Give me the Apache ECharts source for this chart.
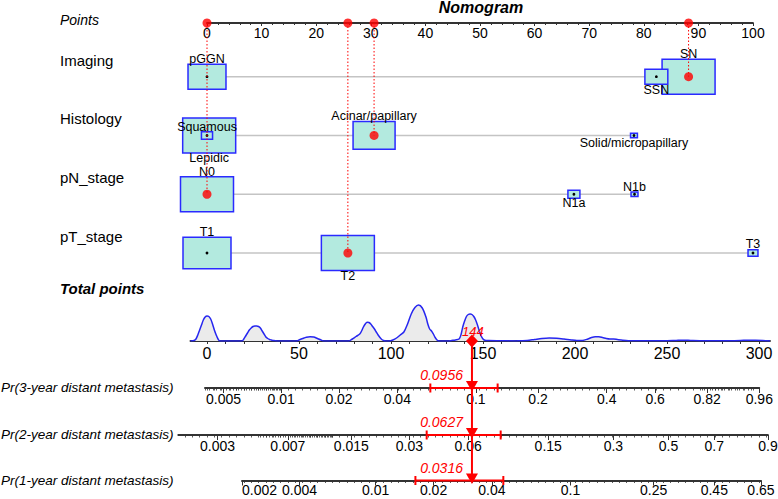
<!DOCTYPE html>
<html>
<head>
<meta charset="utf-8">
<script src="https://cdn.jsdelivr.net/npm/echarts@6/dist/echarts.min.js"></script>
<style>
  html, body { margin: 0; padding: 0; background: #fff; }
  #chart { width: 778px; height: 499px; }
</style>
</head>
<body>
<div id="chart"></div>
<script>
// ---- data ----
const rowNames = ['Imaging', 'Histology', 'pN_stage', 'pT_stage'];

const imagingLevels = ['pGGN', 'SSN', 'SN'];
const imagingPoints = [0, 82.3, 88.2];
const imagingFreq = [0.302, 0.110, 0.588];

const histologyLevels = ['Squamous', 'Lepidic', 'Acinar/papillary', 'Solid/micropapillary'];
const histologyPoints = [0, 0.4, 30.6, 78.2];
const histologyFreq = [0.026, 0.592, 0.372, 0.010];

const pnLevels = ['N0', 'N1a', 'N1b'];
const pnPoints = [0, 67.2, 78.3];
const pnFreq = [0.936, 0.048, 0.016];

const ptLevels = ['T1', 'T2', 'T3'];
const ptPoints = [0, 25.8, 100];
const ptFreq = [0.442, 0.539, 0.019];

// the patient marked in red
const selectedLevels = ['SN', 'Acinar/papillary', 'N0', 'T2'];
const totalScore = 144;

// total points axis
const totalRange = [-9, 306];
const totalLabels = [0, 50, 100, 150, 200, 250, 300];

// density of total points (arbitrary units)
const densityTP = [-9, -7, -6, -5, -4, -3, -2, -1, 0, 1, 2, 3, 4, 5, 6, 7,
  19, 20, 21, 22, 23, 24, 25, 26, 27, 28, 29, 30, 31, 32, 33, 34, 35, 36, 38,
  49, 50, 52, 54, 56, 58, 60, 62, 63.5,
  77, 79, 81, 83, 84, 85, 86, 87, 88, 89, 90, 91, 92, 93, 94, 95, 96, 97,
  99, 101, 103, 105, 107, 109, 111, 113, 115, 117, 119, 120, 121, 122, 123, 124, 125, 126,
  131, 133, 135, 137, 138, 139, 140, 141, 142, 143, 144, 145, 146, 147, 148, 149, 150, 151, 153, 160, 168, 170,
  174, 178, 182, 186, 190, 194, 198, 201,
  204, 207, 209, 211, 213, 215, 217, 219, 221, 223, 226, 229, 232,
  240, 250, 255, 259, 263, 270, 280, 290, 294, 298, 302, 306];
const densityValue = [0, 0.5, 2, 6, 11, 16, 21, 24, 25, 24.5, 22, 17, 11, 6, 2, 0,
  0, 2, 5, 8, 11, 13, 14.5, 15, 15, 14.5, 13, 10, 7, 4, 2.5, 1.5, 1, 0.5, 0,
  0, 1, 2.5, 3.8, 4.3, 4, 2.5, 1, 0,
  0, 2, 4.5, 7, 10, 14, 17, 18.7, 18.5, 17, 14.5, 12, 9, 6, 3.5, 1.5, 0.5, 0,
  0, 1, 3, 6, 9, 17, 27, 33.5, 36, 33, 24, 17, 12, 10, 7, 3.5, 1, 0,
  0, 0.5, 1, 2, 6, 14, 20, 24.5, 26.5, 27, 26.5, 24.5, 21, 16, 10, 5, 2, 0.8, 0.5, 0.3, 0, 0.3,
  0.5, 1.5, 2.5, 3, 2.8, 2, 1, 0.5,
  0.5, 2, 3.5, 4.3, 4.3, 3.5, 2.5, 2, 2, 1.5, 0.8, 0.3, 0.2,
  0.2, 0.3, 0.6, 0.8, 0.5, 0.2, 0.2, 0.5, 0.8, 0.8, 0.6, 0];

// probability scales
const probNames = ['Pr(3-year distant metastasis)', 'Pr(2-year distant metastasis)', 'Pr(1-year distant metastasis)'];
const prob3Labels = [0.005, 0.01, 0.02, 0.04, 0.1, 0.2, 0.4, 0.6, 0.82, 0.96];
const prob2Labels = [0.003, 0.007, 0.015, 0.03, 0.06, 0.15, 0.3, 0.5, 0.7, 0.9];
const prob1Labels = [0.002, 0.004, 0.01, 0.02, 0.04, 0.1, 0.25, 0.45, 0.65];
const prob3Range = [0.004, 0.96];
const prob2Range = [0.00187, 0.9];
const prob1Range = [0.002, 0.65];
// dense minor tick runs: [from, to, step]
const prob3Dense = [[0.004, 0.01, 0.0002], [0.8, 0.96, 0.01]];
const prob2Dense = [[0.005, 0.012, 0.0002]];
const prob1Dense = [];
const probEstimate = [0.0956, 0.0627, 0.0316];
const probLower = [0.059, 0.0368, 0.0161];
const probUpper = [0.128, 0.0875, 0.0458];
const hazardSlope = 0.0222; // log cumulative hazard per total point

// ---- layout ----
const FONT = '"Liberation Sans", Arial, Helvetica, sans-serif';
const X0 = 207;          // x of 0 points / 0 total points
const PTS_W = 546;       // width of the 0..100 points axis
const K = 1.84;          // px per total point
const AXIS_Y = 23;
const FIRST_ROW_Y = 76.7;
const ROW_STEP = 58.77;
const TOTAL_Y = 341;
const DENS_H = 40;
const PROB_Y = [388, 435, 480.5];
const BOX_W = 53, BOX_RATIO = 0.66;
const BOX_FILL = '#b3eadf', BOX_EDGE = '#2a2aff';
const RED = '#ff0000';
const AXIS_COL = '#333';

const yMin = 1 - (FIRST_ROW_Y - AXIS_Y) / ROW_STEP;
const yMax = 4.5;

const cloglog = p => Math.log(-Math.log(1 - p));

// ---- rows / boxes ----
const rowLevels = [imagingLevels, histologyLevels, pnLevels, ptLevels];
const rowPoints = [imagingPoints, histologyPoints, pnPoints, ptPoints];
const rowFreq = [imagingFreq, histologyFreq, pnFreq, ptFreq];

const boxes = [];
const rowSpans = [];
const selected = [];
rowLevels.forEach((levels, r) => {
  const pts = rowPoints[r];
  const maxF = Math.max(...rowFreq[r]);
  rowSpans.push([Math.min(...pts), Math.max(...pts), r + 1]);
  const order = levels.map((_, i) => i).sort((a, b) => pts[a] - pts[b]);
  order.forEach((i, rank) => {
    const sel = selectedLevels.includes(levels[i]) ? 1 : 0;
    boxes.push({ name: levels[i], value: [pts[i], r + 1, rowFreq[r][i] / maxF, rank % 2 === 0 ? 1 : -1, sel] });
    if (sel) selected.push([pts[i], r + 1]);
  });
});
boxes.sort((a, b) => b.value[2] - a.value[2]);

function renderSpan(params, api) {
  const a = api.coord([api.value(0), api.value(2)]);
  const b = api.coord([api.value(1), api.value(2)]);
  return { type: 'line', shape: { x1: a[0], y1: a[1], x2: b[0], y2: b[1] },
    style: { stroke: '#c4c4c4', lineWidth: 1.5 } };
}

function renderBox(params, api) {
  const item = boxes[params.dataIndex];
  const [pts, row, rel, side, sel] = item.value;
  const c = api.coord([pts, row]);
  const w = BOX_W * Math.sqrt(rel), h = w * BOX_RATIO;
  const children = [{
    type: 'rect', shape: { x: c[0] - w / 2, y: c[1] - h / 2, width: w, height: h },
    style: { fill: BOX_FILL, stroke: BOX_EDGE, lineWidth: 1.5 }
  }];
  if (!sel) children.push({ type: 'circle', shape: { cx: c[0], cy: c[1], r: 1.4 }, style: { fill: '#000' } });
  children.push({
    type: 'text', x: c[0], y: side > 0 ? c[1] - h / 2 + 1 : c[1] + h / 2 - 1,
    style: { text: item.name, fill: '#000', fontSize: 12.5, lineHeight: 12.5, fontFamily: FONT,
      align: 'center', verticalAlign: side > 0 ? 'bottom' : 'top' }
  });
  return { type: 'group', children };
}

function renderDotted(params, api) {
  const a = api.coord([api.value(0), yMin]);
  const b = api.coord([api.value(0), api.value(1)]);
  return { type: 'line', shape: { x1: a[0], y1: a[1], x2: b[0], y2: b[1] },
    style: { stroke: RED, lineWidth: 1, lineDash: [1.5, 2] } };
}

// ---- probability axes ----
const probSets = [
  { labels: prob3Labels, range: prob3Range, dense: prob3Dense },
  { labels: prob2Labels, range: prob2Range, dense: prob2Dense },
  { labels: prob1Labels, range: prob1Range, dense: prob1Dense }
];

const grids = [
  { left: X0, width: PTS_W, top: AXIS_Y, height: (yMax - yMin) * ROW_STEP },
  { left: X0 + totalRange[0] * K, width: (totalRange[1] - totalRange[0]) * K, top: TOTAL_Y - DENS_H, height: DENS_H }
];
const xAxes = [
  {
    gridIndex: 0, type: 'value', position: 'top', min: 0, max: 100, interval: 10,
    axisLine: { lineStyle: { color: AXIS_COL, width: 1.8 } },
    axisTick: { inside: true, length: 3, lineStyle: { color: AXIS_COL } },
    minorTick: { show: true, splitNumber: 5, length: 2, lineStyle: { color: AXIS_COL } },
    axisLabel: { inside: true, margin: 3, fontSize: 14, color: '#000', fontFamily: FONT },
    splitLine: { show: false }
  },
  {
    gridIndex: 1, type: 'value', position: 'bottom', min: totalRange[0], max: totalRange[1],
    axisLine: { lineStyle: { color: AXIS_COL, width: 1.8 } },
    axisTick: { customValues: totalLabels.flatMap(v => v < 300 ? [v, v + 10, v + 20, v + 30, v + 40] : [v]),
      length: 3, lineStyle: { color: AXIS_COL } },
    axisLabel: { customValues: totalLabels, margin: 4, fontSize: 16, color: '#000', fontFamily: FONT },
    splitLine: { show: false }
  }
];
const yAxes = [
  { gridIndex: 0, type: 'value', inverse: true, min: yMin, max: yMax, show: false },
  { gridIndex: 1, type: 'value', min: 0, max: 40, show: false }
];

const probMarks = [];
probSets.forEach((s, i) => {
  const est = probEstimate[i];
  const tpOf = p => totalScore + (cloglog(p) - cloglog(est)) / hazardSlope;
  const lo = tpOf(s.range[0]), hi = tpOf(s.range[1]);
  const top = i === 0 ? TOTAL_Y : PROB_Y[i - 1];
  const g = grids.length;
  grids.push({ left: X0 + lo * K, width: (hi - lo) * K, top: top, height: PROB_Y[i] - top });
  const labelTP = s.labels.map(tpOf);
  const minor = [];
  for (let t = Math.ceil(lo / 4) * 4; t <= hi; t += 4) minor.push(t);
  s.dense.forEach(([a, b, step]) => {
    for (let p = a; p <= b + 1e-9; p += step) minor.push(tpOf(p));
  });
  xAxes.push({
    gridIndex: g, type: 'value', position: 'bottom', min: lo, max: hi,
    axisLine: { lineStyle: { color: AXIS_COL, width: 1.8 } },
    axisTick: { customValues: labelTP, length: 5, lineStyle: { color: AXIS_COL } },
    axisLabel: {
      customValues: labelTP, margin: i === 2 ? 2 : 4, fontSize: 14, lineHeight: 14, color: '#000', fontFamily: FONT,
      alignMinLabel: i === 2 ? 'left' : undefined,
      formatter: v => {
        let best = 0;
        labelTP.forEach((t, j) => { if (Math.abs(t - v) < Math.abs(labelTP[best] - v)) best = j; });
        return String(s.labels[best]);
      }
    },
    splitLine: { show: false }
  });
  xAxes.push({
    gridIndex: g, type: 'value', position: 'bottom', min: lo, max: hi,
    axisLine: { show: false },
    axisTick: { customValues: minor.filter(t => t >= lo && t <= hi), length: 2.5, lineStyle: { color: AXIS_COL, width: 0.8 } },
    axisLabel: { show: false },
    splitLine: { show: false }
  });
  yAxes.push({ gridIndex: g, type: 'value', min: 0, max: 1, show: false });
  probMarks.push({
    type: 'custom', xAxisIndex: xAxes.length - 2, yAxisIndex: yAxes.length - 1, z: 10,
    data: [[tpOf(est), tpOf(probLower[i]), tpOf(probUpper[i]), est]],
    renderItem: (params, api) => {
      const t = api.coord([api.value(0), 1]);
      const b = api.coord([api.value(0), 0]);
      const l = api.coord([api.value(1), 0]);
      const r = api.coord([api.value(2), 0]);
      const red = { stroke: RED, lineWidth: 2 };
      return { type: 'group', children: [
        { type: 'line', shape: { x1: t[0], y1: t[1], x2: b[0], y2: b[1] }, style: red },
        { type: 'line', shape: { x1: l[0], y1: l[1], x2: r[0], y2: r[1] }, style: red },
        { type: 'line', shape: { x1: l[0], y1: l[1] - 4.5, x2: l[0], y2: l[1] + 4.5 }, style: red },
        { type: 'line', shape: { x1: r[0], y1: r[1] - 4.5, x2: r[0], y2: r[1] + 4.5 }, style: red },
        { type: 'polygon', shape: { points: [[b[0] - 6, b[1] - 7], [b[0] + 6, b[1] - 7], [b[0], b[1] + 3.5]] }, style: { fill: RED } },
        { type: 'text', x: b[0] - 9, y: b[1] - 6,
          style: { text: String(probEstimate[i]), fill: RED, fontSize: 14, fontStyle: 'italic', fontFamily: FONT,
            align: 'right', verticalAlign: 'bottom' } }
      ] };
    }
  });
});

// marker on the total points axis
const totalMark = {
  type: 'custom', xAxisIndex: 1, yAxisIndex: 1, z: 10,
  data: [[totalScore, 0]],
  renderItem: (params, api) => {
    const c = api.coord([api.value(0), api.value(1)]);
    return { type: 'group', children: [
      { type: 'polygon', shape: { points: [[c[0], c[1] - 6.5], [c[0] + 6, c[1]], [c[0], c[1] + 6.5], [c[0] - 6, c[1]]] },
        style: { fill: RED } },
      { type: 'text', x: c[0] + 1, y: c[1] - 3,
        style: { text: String(totalScore), fill: RED, fontSize: 13, fontStyle: 'italic', fontFamily: FONT,
          align: 'center', verticalAlign: 'bottom' } }
    ] };
  }
};

// ---- texts on the left ----
const titleFont = (size, style, weight) => ({ fontSize: size, fontStyle: style || 'normal', fontWeight: weight || 'normal',
  color: '#000', fontFamily: FONT, lineHeight: size });
const titles = [
  { text: 'Nomogram', left: 481, top: -1, textAlign: 'center', padding: 0, textStyle: titleFont(16, 'italic', 'bold') },
  { text: 'Points', left: 60, top: 13, padding: 0, textStyle: titleFont(14, 'italic') },
  { text: 'Total points', left: 60, top: 280.5, padding: 0, textStyle: titleFont(15, 'italic', 'bold') }
];
rowNames.forEach((n, i) => {
  titles.push({ text: n, left: 60, top: FIRST_ROW_Y + i * ROW_STEP - 16.5 - 7.5, padding: 0, textStyle: titleFont(15) });
});
probNames.forEach((n, i) => {
  titles.push({ text: n, left: 1, top: PROB_Y[i] - 7, padding: 0, textStyle: titleFont(13.5, 'italic') });
});

const chart = echarts.init(document.getElementById('chart'), null, { renderer: 'svg' });
chart.setOption({
  animation: false,
  backgroundColor: '#fff',
  textStyle: { fontFamily: FONT },
  title: titles,
  grid: grids.map(g => Object.assign({ containLabel: false, outerBoundsMode: 'none' }, g)),
  xAxis: xAxes,
  yAxis: yAxes,
  series: [
    { type: 'custom', xAxisIndex: 0, yAxisIndex: 0, data: rowSpans, renderItem: renderSpan, z: 1 },
    { type: 'custom', xAxisIndex: 0, yAxisIndex: 0, data: boxes, renderItem: renderBox, z: 2 },
    { type: 'custom', xAxisIndex: 0, yAxisIndex: 0, data: selected, renderItem: renderDotted, z: 3 },
    {
      type: 'scatter', xAxisIndex: 0, yAxisIndex: 0, z: 4, clip: false,
      data: selected.concat(selected.map(s => [s[0], yMin])),
      symbol: 'circle', symbolSize: 9, itemStyle: { color: RED }
    },
    {
      type: 'line', xAxisIndex: 1, yAxisIndex: 1, z: 2,
      data: densityTP.map((t, i) => [t, densityValue[i]]),
      smooth: 0.3, showSymbol: false, symbol: 'none',
      lineStyle: { color: '#2626f0', width: 1.5 },
      areaStyle: { color: '#ebebeb', opacity: 1 }
    },
    totalMark
  ].concat(probMarks)
});
</script>
</body>
</html>
